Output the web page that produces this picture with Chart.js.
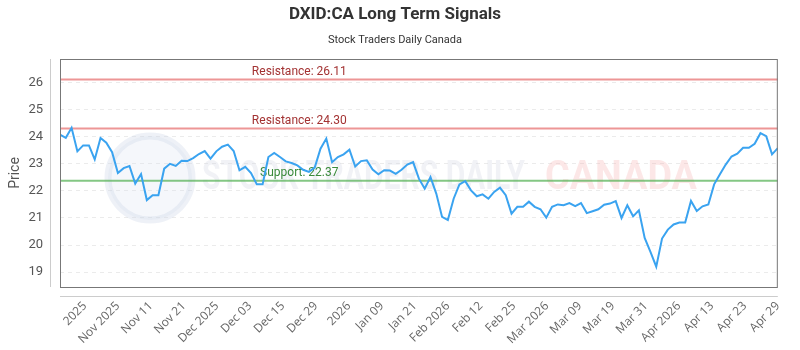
<!DOCTYPE html>
<html>
<head>
<meta charset="utf-8">
<script src="https://cdn.jsdelivr.net/npm/chart.js@4.4.1/dist/chart.umd.min.js"></script>
<style>
body { margin: 0; background: #fff; }
#wrap { width: 800px; height: 350px; }
</style>
</head>
<body>
<div id="wrap"><canvas id="myChart"></canvas></div>
<script>
// price series, one value per session
const prices = [
    24.08, 23.96, 24.33, 23.46, 23.68, 23.68, 23.16, 23.95, 23.78, 23.43,
    22.66, 22.84, 22.92, 22.27, 22.62, 21.66, 21.84, 21.84, 22.82, 23.00,
    22.92, 23.11, 23.10, 23.21, 23.36, 23.47, 23.19, 23.46, 23.63, 23.71,
    23.47, 22.76, 22.89, 22.66, 22.24, 22.24, 23.25, 23.40, 23.25, 23.09,
    23.03, 22.94, 22.78, 22.70, 22.86, 23.56, 23.93, 23.06, 23.25, 23.35,
    23.52, 22.90, 23.10, 23.13, 22.79, 22.61, 22.76, 22.75, 22.63, 22.78,
    22.97, 23.06, 22.45, 22.08, 22.51, 21.90, 21.04, 20.92, 21.71, 22.24,
    22.36, 22.02, 21.80, 21.87, 21.71, 21.96, 22.12, 21.84, 21.16, 21.41,
    21.41, 21.60, 21.41, 21.32, 21.01, 21.41, 21.50, 21.47, 21.55, 21.44,
    21.55, 21.18, 21.25, 21.32, 21.49, 21.53, 21.62, 21.00, 21.47, 21.06,
    21.28, 20.26, 19.75, 19.20, 20.24, 20.57, 20.76, 20.83, 20.83, 21.63,
    21.26, 21.43, 21.50, 22.24, 22.61, 22.97, 23.27, 23.37, 23.59, 23.59,
    23.74, 24.13, 24.02, 23.35, 23.58
];
const xTickLabels = ['2025', 'Nov 2025', 'Nov 11', 'Nov 21', 'Dec 2025', 'Dec 03', 'Dec 15', 'Dec 29',
    '2026', 'Jan 09', 'Jan 21', 'Feb 2026', 'Feb 12', 'Feb 25', 'Mar 2026', 'Mar 09', 'Mar 19',
    'Mar 31', 'Apr 2026', 'Apr 13', 'Apr 23', 'Apr 29'];
const yTicks = [19, 20, 21, 22, 23, 24, 25, 26];
const resistanceLevels = [26.11, 24.30];
const supportLevels = [22.37];

const tickStep = 5.7; // sessions between x labels

// frame, axis lines, watermark, signal levels
const extras = {
    id: 'extras',
    beforeDatasetsDraw(chart) {
        const {ctx, chartArea: a, scales: {y}} = chart;
        ctx.save();
        // watermark
        ctx.beginPath();
        ctx.arc(a.left + 90, 178, 42, 0, Math.PI * 2);
        ctx.fillStyle = 'rgba(215,222,238,0.25)';
        ctx.fill();
        ctx.lineWidth = 7;
        ctx.strokeStyle = 'rgba(200,210,230,0.3)';
        ctx.stroke();
        ctx.font = 'bold 40px Roboto';
        ctx.textBaseline = 'middle';
        ctx.textAlign = 'left';
        ctx.fillStyle = 'rgba(205,210,222,0.28)';
        ctx.fillText('STOCK TRADERS DAILY', 202, 179, 323);
        ctx.fillStyle = 'rgba(245,170,170,0.28)';
        ctx.fillText('CANADA', 545, 179, 152);

        // levels
        const labelX = a.left + a.width / 3;
        ctx.lineWidth = 2;
        ctx.font = '12px Roboto';
        ctx.textAlign = 'center';
        ctx.textBaseline = 'bottom';
        resistanceLevels.forEach(v => {
            const py = y.getPixelForValue(v);
            ctx.strokeStyle = 'rgba(225,80,80,0.6)';
            ctx.beginPath(); ctx.moveTo(a.left, py); ctx.lineTo(a.right, py); ctx.stroke();
            ctx.fillStyle = '#a33232';
            ctx.fillText('Resistance: ' + v.toFixed(2), labelX, py - 2);
        });
        supportLevels.forEach(v => {
            const py = y.getPixelForValue(v);
            ctx.strokeStyle = 'rgba(80,175,80,0.7)';
            ctx.beginPath(); ctx.moveTo(a.left, py); ctx.lineTo(a.right, py); ctx.stroke();
            ctx.fillStyle = '#3a8a3a';
            ctx.fillText('Support: ' + v.toFixed(2), labelX, py - 2);
        });
        ctx.restore();
    },
    afterDraw(chart) {
        const {ctx, chartArea: a} = chart;
        ctx.save();
        ctx.lineWidth = 1;
        ctx.strokeStyle = '#777';
        ctx.strokeRect(a.left + 0.5, a.top + 0.5, a.width - 1, a.height);
        ctx.strokeStyle = '#ccc';
        ctx.beginPath();
        ctx.moveTo(a.left - 9.5, a.top); ctx.lineTo(a.left - 9.5, a.bottom);
        ctx.moveTo(a.left, a.bottom + 9.5); ctx.lineTo(a.right, a.bottom + 9.5);
        ctx.stroke();
        ctx.restore();
    }
};

const ctx = document.getElementById('myChart').getContext('2d');
const myChart = new Chart(ctx, {
    type: 'line',
    data: {
        datasets: [{
            label: 'Price',
            data: prices.map((p, i) => ({x: i, y: p})),
            borderColor: '#3aa3f0',
            borderWidth: 2,
            pointRadius: 0,
            tension: 0
        }]
    },
    options: {
        responsive: true,
        maintainAspectRatio: false,
        animation: false,
        layout: {
            padding: {left: 0, right: 10, top: 0, bottom: 0}
        },
        scales: {
            x: {
                type: 'linear',
                min: 0,
                max: prices.length - 1,
                afterBuildTicks: axis => {
                    const last = prices.length - 1;
                    const n = xTickLabels.length;
                    axis.ticks = xTickLabels.map((l, i) => ({value: last - (n - 1 - i) * tickStep}));
                },
                afterFit: s => { s.height = 63; },
                grid: {display: false, drawTicks: false},
                border: {display: false},
                ticks: {
                    autoSkip: false,
                    maxRotation: 45,
                    minRotation: 45,
                    padding: 12,
                    color: '#666',
                    font: {family: "'Open Sans'", size: 12},
                    callback: (v, i) => xTickLabels[i]
                }
            },
            y: {
                min: 18.45,
                max: 26.87,
                afterBuildTicks: axis => {
                    axis.ticks = yTicks.map(v => ({value: v}));
                },
                afterFit: s => { s.width = 60; },
                grid: {
                    drawTicks: false,
                    color: 'rgba(0,0,0,0.08)'
                },
                border: {display: false, dash: [4, 4]},
                ticks: {
                    padding: 17,
                    color: '#555',
                    font: {family: 'Roboto', size: 13}
                },
                title: {
                    display: true,
                    text: 'Price',
                    color: '#555',
                    font: {family: 'Roboto', size: 14},
                    padding: {top: 7, bottom: 0}
                }
            }
        },
        plugins: {
            legend: {display: false},
            tooltip: {enabled: false},
            title: {
                display: true,
                text: 'DXID:CA Long Term Signals',
                color: '#333',
                font: {family: 'Roboto', size: 17, weight: 'bold'},
                padding: {top: 4.5, bottom: 4.5}
            },
            subtitle: {
                display: true,
                text: 'Stock Traders Daily Canada',
                color: '#333',
                font: {family: 'Roboto', size: 11},
                padding: {top: 4, bottom: 12.4}
            }
        }
    },
    plugins: [extras]
});
</script>
</body>
</html>
